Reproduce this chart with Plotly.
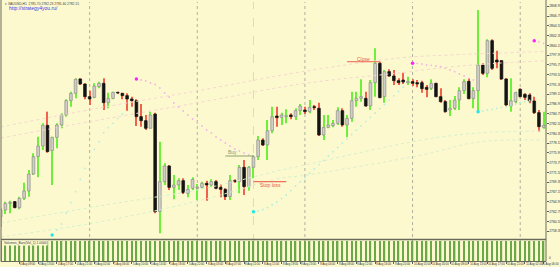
import plotly.graph_objects as go

# ---------------- DATA (XAUUSD H1) ----------------
opens = [
2761.60, 2763.10, 2764.60, 2764.98, 2763.63, 2765.73, 2767.38, 2771.20, 2775.10, 2777.50,
2782.15, 2776.45, 2779.45, 2782.23, 2784.48, 2787.70, 2789.35, 2792.58, 2791.45, 2788.60,
2788.45, 2790.85, 2791.60, 2787.25, 2788.23, 2789.58, 2789.35, 2788.83, 2788.08, 2787.70,
2784.10, 2783.20, 2781.48, 2784.70, 2762.73, 2769.48, 2773.00, 2768.20, 2768.73, 2769.70,
2766.85, 2767.98, 2767.98, 2768.20, 2769.10, 2768.73, 2769.48, 2768.20, 2767.75, 2766.10,
2769.70, 2769.48, 2772.70, 2768.35, 2772.70, 2775.10, 2778.85, 2777.73, 2780.95, 2784.25,
2783.95, 2784.10, 2784.48, 2784.10, 2785.45, 2785.60, 2785.23, 2786.35, 2785.98, 2779.98,
2781.70, 2782.08, 2782.60, 2785.45, 2782.23, 2783.73, 2787.70, 2788.23, 2788.23, 2786.50,
2791.75, 2796.10, 2788.60, 2794.23, 2793.25, 2792.20, 2792.35, 2791.75, 2791.98, 2791.75,
2791.75, 2790.70, 2790.48, 2791.60, 2788.60, 2787.48, 2785.60, 2785.98, 2787.85, 2789.95,
2792.05, 2788.15, 2789.95, 2795.73, 2793.85, 2801.20, 2796.85, 2796.70, 2792.58, 2786.50,
2787.48, 2790.25, 2789.13, 2788.98, 2787.63, 2785.00, 2781.70]

highs = [
2763.48, 2764.98, 2765.20, 2765.13, 2766.10, 2769.25, 2772.10, 2775.85, 2779.60, 2782.60,
2785.23, 2779.60, 2782.60, 2784.85, 2788.00, 2789.73, 2792.73, 2792.73, 2791.60, 2789.95,
2791.60, 2791.98, 2792.73, 2789.50, 2789.73, 2789.73, 2789.50, 2789.35, 2788.60, 2788.00,
2786.95, 2784.48, 2785.23, 2785.00, 2778.48, 2773.60, 2773.23, 2770.98, 2770.23, 2770.23,
2768.73, 2770.45, 2768.95, 2769.48, 2769.70, 2770.00, 2769.85, 2768.95, 2767.98, 2770.98,
2770.00, 2773.23, 2774.35, 2773.00, 2775.48, 2779.75, 2779.23, 2783.35, 2786.35, 2786.35,
2785.00, 2785.75, 2784.85, 2785.98, 2786.95, 2786.35, 2787.85, 2786.73, 2787.25, 2784.48,
2784.48, 2783.35, 2786.20, 2785.98, 2784.48, 2789.73, 2789.73, 2792.50, 2789.73, 2792.35,
2799.48, 2796.48, 2794.60, 2794.75, 2794.60, 2792.73, 2794.00, 2793.10, 2792.50, 2792.35,
2792.20, 2791.23, 2792.50, 2791.75, 2790.48, 2787.85, 2787.85, 2788.75, 2790.70, 2792.50,
2792.73, 2790.70, 2808.10, 2796.10, 2801.50, 2801.50, 2798.95, 2796.85, 2792.73, 2792.73,
2789.73, 2790.48, 2789.35, 2789.35, 2788.60, 2785.60, 2785.23]

lows = [
2759.35, 2762.20, 2762.35, 2763.48, 2763.25, 2765.35, 2766.10, 2770.98, 2770.45, 2776.60,
2776.00, 2768.73, 2776.98, 2781.48, 2784.10, 2786.35, 2788.23, 2791.23, 2788.00, 2786.73,
2788.23, 2790.48, 2785.60, 2785.98, 2788.00, 2789.20, 2788.00, 2785.45, 2786.35, 2782.00,
2781.85, 2781.10, 2781.48, 2762.35, 2757.85, 2768.73, 2767.60, 2765.50, 2767.60, 2766.70,
2765.95, 2767.60, 2765.35, 2767.98, 2765.20, 2768.35, 2767.75, 2765.95, 2765.35, 2765.35,
2769.25, 2766.85, 2766.48, 2767.45, 2770.23, 2774.35, 2777.50, 2774.35, 2780.35, 2781.85,
2782.23, 2782.60, 2783.50, 2783.35, 2784.48, 2784.70, 2784.85, 2785.60, 2779.75, 2778.85,
2781.48, 2781.70, 2782.23, 2781.85, 2779.45, 2782.98, 2786.35, 2787.48, 2786.35, 2785.60,
2788.60, 2788.23, 2787.25, 2793.10, 2791.23, 2791.23, 2791.45, 2791.23, 2791.00, 2790.70,
2789.50, 2788.45, 2790.10, 2788.45, 2787.25, 2785.00, 2784.25, 2785.60, 2785.60, 2789.20,
2788.00, 2785.98, 2785.23, 2793.48, 2792.95, 2794.60, 2794.98, 2792.35, 2786.50, 2785.23,
2787.10, 2788.45, 2787.85, 2787.10, 2784.70, 2780.73, 2781.40]

closes = [
2763.10, 2764.60, 2764.83, 2763.63, 2765.73, 2767.38, 2771.20, 2775.10, 2777.50, 2782.15,
2776.23, 2779.45, 2782.23, 2784.48, 2787.70, 2789.35, 2792.50, 2791.45, 2788.60, 2788.08,
2791.00, 2791.60, 2787.25, 2788.23, 2789.58, 2789.43, 2788.83, 2788.08, 2787.70, 2784.10,
2783.20, 2781.48, 2784.48, 2762.73, 2769.48, 2773.00, 2768.20, 2768.73, 2769.70, 2767.00,
2767.75, 2770.00, 2768.28, 2769.10, 2768.73, 2769.48, 2767.98, 2767.75, 2766.10, 2769.70,
2769.48, 2772.70, 2768.35, 2772.70, 2775.10, 2778.85, 2777.73, 2780.95, 2784.10, 2783.88,
2784.48, 2784.33, 2784.10, 2785.45, 2786.50, 2785.23, 2786.20, 2786.13, 2779.98, 2781.70,
2782.23, 2782.60, 2785.45, 2782.23, 2783.73, 2787.70, 2788.23, 2788.60, 2786.50, 2791.75,
2796.10, 2788.38, 2794.23, 2793.25, 2792.20, 2791.75, 2791.90, 2792.05, 2791.60, 2791.45,
2790.40, 2790.25, 2791.60, 2788.60, 2787.48, 2785.23, 2785.98, 2787.85, 2789.95, 2791.98,
2788.15, 2789.95, 2795.73, 2793.85, 2801.20, 2794.98, 2796.40, 2792.58, 2786.73, 2787.70,
2789.50, 2788.60, 2788.45, 2787.63, 2785.00, 2781.85, 2782.15]

N_BARS = len(opens)
assert len(highs) == N_BARS and len(lows) == N_BARS and len(closes) == N_BARS

# tick volume panel: every bar reaches the top of the sub-window
volumes = [1] * N_BARS

# Parabolic SAR segments (start bar index, values)
sar_up1_start, sar_up1 = 11, [2757.48, 2758.60, 2759.95, 2762.43, 2764.74, 2767.22, 2770.01, 2772.48,
                              2775.09, 2776.76, 2778.47, 2780.49, 2781.62, 2782.61, 2783.73, 2784.70]
sar_dn1_start, sar_dn1 = 29, [2792.58, 2792.35, 2792.13, 2791.68, 2791.34, 2790.55, 2789.43, 2788.53,
                              2787.18, 2786.28, 2785.38, 2784.48, 2783.58, 2782.68, 2782.00, 2781.10,
                              2780.43, 2779.53, 2778.85, 2778.18, 2777.50, 2776.83, 2776.38, 2775.93, 2775.48]
sar_up2_start, sar_up2 = 54, [2762.72, 2762.88, 2763.21, 2763.66, 2764.23, 2764.90, 2765.69, 2766.48,
                              2767.44, 2768.50, 2769.47, 2770.41, 2771.38, 2772.35, 2773.32, 2774.28,
                              2775.25, 2776.22, 2777.19, 2778.15, 2779.12, 2780.09, 2781.06, 2782.02,
                              2782.99, 2783.96, 2784.93, 2785.89, 2786.86, 2787.83, 2788.80, 2789.76, 2790.73]
sar_dn2_start, sar_dn2 = 88, [2796.11, 2796.11, 2795.95, 2795.73, 2795.66, 2795.50, 2795.34, 2794.98,
                              2794.60, 2794.22, 2793.70, 2793.25, 2792.73, 2792.35]
sar_up3_start, sar_up3 = 102, [2785.22, 2785.38, 2785.60, 2785.76, 2785.98, 2786.21, 2786.34, 2786.66,
                               2786.95, 2787.24, 2787.51, 2787.74]
sar_dn3_start, sar_dn3 = 114, [2801.19, 2800.97, 2800.61]

# faint moving-average / envelope lines (bar index -> price)
ma_bars = [0, 21, 43, 64, 85, 96, 107, 116]
ma_pink_hi = [2781.78, 2786.05, 2790.10, 2794.15, 2797.30, 2797.98, 2798.43, 2798.76]
ma_pink_lo = [2779.30, 2783.35, 2787.40, 2791.45, 2793.93, 2795.28, 2796.18, 2796.63]
ma_bars_g = [0, 21, 43, 60, 64, 90, 102, 116]
ma_green_hi = [2760.18, 2764.00, 2767.83, 2772.10, 2773.00, 2778.85, 2780.43, 2780.88]
ma_green_lo = [2757.03, 2760.40, 2765.35, 2770.30, 2770.75, 2775.48, 2778.40, 2778.85]

# trade levels: (label, price, first bar, last bar)
buy_level = ("Buy", 2775.25, 48, 54)
stop_level = ("Stop loss", 2769.47, 54, 61)
close_level = ("Close", 2796.47, 74, 81)

day_separators = [19, 42, 65, 88, 111]
entry_bar = 54

price_ticks = [2808.95, 2806.75, 2804.55, 2802.35, 2800.15, 2797.95, 2795.75, 2793.55,
               2791.35, 2789.15, 2786.95, 2784.75, 2782.55, 2780.35, 2778.15, 2775.95,
               2773.75, 2771.55, 2769.35, 2767.15, 2764.95, 2762.75, 2760.55, 2758.35]

time_tick_bars = [0, 4, 8, 12, 16, 20, 24, 28, 32, 36, 40, 44, 48, 52, 56, 60, 64, 68, 72,
                  76, 80, 84, 88, 92, 96, 100, 104, 108, 112, 116]
time_tick_labels = ["4 Aug 2022", "4 Aug 09:00", "4 Aug 13:00", "4 Aug 17:00", "4 Aug 21:00",
                    "5 Aug 02:00", "5 Aug 06:00", "5 Aug 10:00", "5 Aug 14:00", "5 Aug 18:00",
                    "5 Aug 22:00", "8 Aug 03:00", "8 Aug 07:00", "8 Aug 11:00", "8 Aug 15:00",
                    "8 Aug 19:00", "8 Aug 23:00", "9 Aug 04:00", "9 Aug 08:00", "9 Aug 12:00",
                    "9 Aug 16:00", "9 Aug 20:00", "10 Aug 01:00", "10 Aug 05:00", "10 Aug 09:00",
                    "10 Aug 13:00", "10 Aug 17:00", "10 Aug 21:00", "11 Aug 02:00", "11 Aug 06:00"]

# ---------------- STYLE ----------------
BG = "#fdf9cf"
BULL_FILL, BULL_LINE, BULL_WICK = "#cfcfc8", "#8e8e88", "#6cf03c"
BEAR_FILL, BEAR_LINE, BEAR_WICK = "#141414", "#141414", "#f2604e"
FONT = "Liberation Sans"

W, H = 560, 267
def py(pix):  # pixel row -> paper fraction
    return (H - pix) / H

X_DOM = [1 / W, 546 / W]
MAIN_DOM = [py(239), py(2)]
VOL_DOM = [py(261), py(241)]

fig = go.Figure()

idx = list(range(N_BARS))
bull = [c >= o for o, c in zip(opens, closes)]

# MA lines (drawn first, faint)
for xs, ys, col in ((ma_bars, ma_pink_hi, "#f6d6d0"), (ma_bars, ma_pink_lo, "#f6d6d0"),
                    (ma_bars_g, ma_green_hi, "#d6f0cc"), (ma_bars_g, ma_green_lo, "#d6f0cc")):
    fig.add_trace(go.Scatter(x=xs, y=ys, mode="lines", line=dict(color=col, width=1, dash="dot", shape="spline"),
                             xaxis="x", yaxis="y", hoverinfo="skip"))

# wicks
for flag, col in ((True, BULL_WICK), (False, BEAR_WICK)):
    xs = [i for i in idx if bull[i] == flag]
    fig.add_trace(go.Bar(x=xs, base=[lows[i] for i in xs], y=[highs[i] - lows[i] for i in xs],
                         width=0.22, marker=dict(color=col, line=dict(width=0)),
                         xaxis="x", yaxis="y", hoverinfo="skip"))
# bodies
for flag, fill, line in ((True, BULL_FILL, BULL_LINE), (False, BEAR_FILL, BEAR_LINE)):
    xs = [i for i in idx if bull[i] == flag]
    fig.add_trace(go.Bar(x=xs, base=[min(opens[i], closes[i]) for i in xs],
                         y=[max(abs(closes[i] - opens[i]), 0.12) for i in xs],
                         width=0.58, marker=dict(color=fill, line=dict(color=line, width=0.7)),
                         xaxis="x", yaxis="y", hoverinfo="skip"))

# SAR dots
for start, vals, bright, pale in ((sar_up1_start, sar_up1, "#22e8e8", "#b4eedc"),
                                  (sar_dn1_start, sar_dn1, "#ff22ff", "#f4b4e6"),
                                  (sar_up2_start, sar_up2, "#22e8e8", "#b4eedc"),
                                  (sar_dn2_start, sar_dn2, "#ff22ff", "#f4b4e6"),
                                  (sar_up3_start, sar_up3, "#22e8e8", "#b4eedc"),
                                  (sar_dn3_start, sar_dn3, "#ff22ff", "#f4b4e6")):
    xs = list(range(start, start + len(vals)))
    fig.add_trace(go.Scatter(x=xs[1:], y=vals[1:], mode="markers",
                             marker=dict(color=pale, size=1.8, line=dict(width=0)),
                             xaxis="x", yaxis="y", hoverinfo="skip"))
    fig.add_trace(go.Scatter(x=xs[:1], y=vals[:1], mode="markers",
                             marker=dict(color=bright, size=3.5, line=dict(width=0)),
                             xaxis="x", yaxis="y", hoverinfo="skip"))

# trade level lines
for (lab, price, b0, b1), col in ((buy_level, "#9fb07c"), (stop_level, "#f0705e"), (close_level, "#f0806a")):
    fig.add_trace(go.Scatter(x=[b0, b1], y=[price, price], mode="lines", line=dict(color=col, width=1.2),
                             xaxis="x", yaxis="y", hoverinfo="skip"))

# volume bars
fig.add_trace(go.Bar(x=idx, y=volumes, width=0.3, marker=dict(color="#6aa84a", line=dict(width=0)),
                     xaxis="x", yaxis="y2", hoverinfo="skip"))

shapes = []
for b in day_separators:
    shapes.append(dict(type="line", xref="x", yref="paper", x0=b, x1=b, y0=VOL_DOM[0], y1=MAIN_DOM[1],
                       line=dict(color="#b0b0a0", width=1, dash="dot"), layer="below"))
shapes.append(dict(type="line", xref="x", yref="paper", x0=entry_bar, x1=entry_bar, y0=VOL_DOM[0],
                   y1=MAIN_DOM[1], line=dict(color="#f0d0c4", width=1, dash="dash"), layer="below"))
# window frame lines
frame = "#6a6a5a"
shapes += [
    dict(type="line", xref="paper", yref="paper", x0=X_DOM[0], x1=X_DOM[1], y0=py(239.5), y1=py(239.5),
         line=dict(color=frame, width=1.5)),
    dict(type="line", xref="paper", yref="paper", x0=X_DOM[0], x1=X_DOM[1], y0=py(261.5), y1=py(261.5),
         line=dict(color=frame, width=1)),
    dict(type="line", xref="paper", yref="paper", x0=X_DOM[0], x1=X_DOM[0], y0=py(261.5), y1=1,
         line=dict(color=frame, width=1)),
    dict(type="line", xref="paper", yref="paper", x0=X_DOM[1], x1=X_DOM[1], y0=py(261.5), y1=1,
         line=dict(color=frame, width=1)),
]

XFONT = dict(family=FONT, size=2.85, color="#303030")
ann = []
ann.append(dict(xref="paper", yref="paper", x=3 / W, y=py(0.3), xanchor="left", yanchor="top", showarrow=False,
                text="▾ XAUUSD,H1  2781.70 2782.23 2781.40 2782.15", font=dict(family=FONT, size=3.3, color="#404040")))
ann.append(dict(xref="paper", yref="paper", x=7 / W, y=py(8.5), xanchor="left", yanchor="middle", showarrow=False,
                text="http://strategy4you.ru/", font=dict(family=FONT, size=5, color="#3a3af0")))
ann.append(dict(xref="paper", yref="paper", x=3 / W, y=py(242.5), xanchor="left", yanchor="middle", showarrow=False,
                text="Volumes_Bars(Vol_1) 1.0000", bgcolor=BG, borderpad=0, font=dict(family=FONT, size=3.3, color="#404040")))
for k, (b, t) in enumerate(zip(time_tick_bars, time_tick_labels)):
    if k == len(time_tick_bars) - 1:
        # last label sits flush against the right edge of the window
        ann.append(dict(xref="paper", yref="paper", x=559.9 / W, y=py(264.3), xanchor="right", yanchor="middle",
                        showarrow=False, borderpad=0, text=t, font=XFONT))
    else:
        ann.append(dict(xref="x", yref="paper", x=b, y=py(264.3), xanchor="left", yanchor="middle", showarrow=False,
                        borderpad=0, text=t, font=XFONT))
# trade level labels
ann.append(dict(xref="x", yref="y", x=buy_level[2] + 0.1, y=buy_level[1] + 1.0, xanchor="left", yanchor="middle",
                showarrow=False, text=buy_level[0], font=dict(family=FONT, size=5, color="#8a9a66")))
ann.append(dict(xref="x", yref="y", x=stop_level[2] + 0.9, y=stop_level[1] - 0.85, xanchor="left", yanchor="middle",
                showarrow=False, text=stop_level[0], font=dict(family=FONT, size=5, color="#e85a48")))
ann.append(dict(xref="x", yref="y", x=close_level[2] + 1.7, y=close_level[1] + 0.6, xanchor="left", yanchor="middle",
                showarrow=False, text=close_level[0], font=dict(family=FONT, size=5, color="#e85a48")))
ann.append(dict(xref="paper", yref="paper", x=548 / W, y=py(258.3), xanchor="left", yanchor="middle", showarrow=False,
                borderpad=0, text="0", font=dict(family=FONT, size=3.1, color="#303030")))

fig.update_layout(
    width=W, height=H, margin=dict(l=0, r=0, t=0, b=0),
    paper_bgcolor=BG, plot_bgcolor=BG, showlegend=False, barmode="overlay",
    font=dict(family=FONT),
    xaxis=dict(domain=X_DOM, range=[0.064, 116.51], anchor="y2", showgrid=False, zeroline=False,
               showticklabels=False, tickvals=time_tick_bars, ticks="outside", ticklen=2,
               tickcolor="#606060", showline=False, fixedrange=True),
    yaxis=dict(domain=MAIN_DOM, range=[2756.575, 2809.9], anchor="x", side="right", showgrid=False,
               zeroline=False, tickvals=price_ticks, ticktext=[f"{v:.2f}" for v in price_ticks],
               ticks="outside", ticklen=1.5, tickcolor="#606060",
               tickfont=dict(family=FONT, size=3.4, color="#303030"), automargin=False),
    yaxis2=dict(domain=VOL_DOM, range=[0, 1], anchor="x", side="right", showgrid=False, zeroline=False,
                showticklabels=False, automargin=False),
    shapes=shapes, annotations=ann,
)

fig.write_html("out.html")
